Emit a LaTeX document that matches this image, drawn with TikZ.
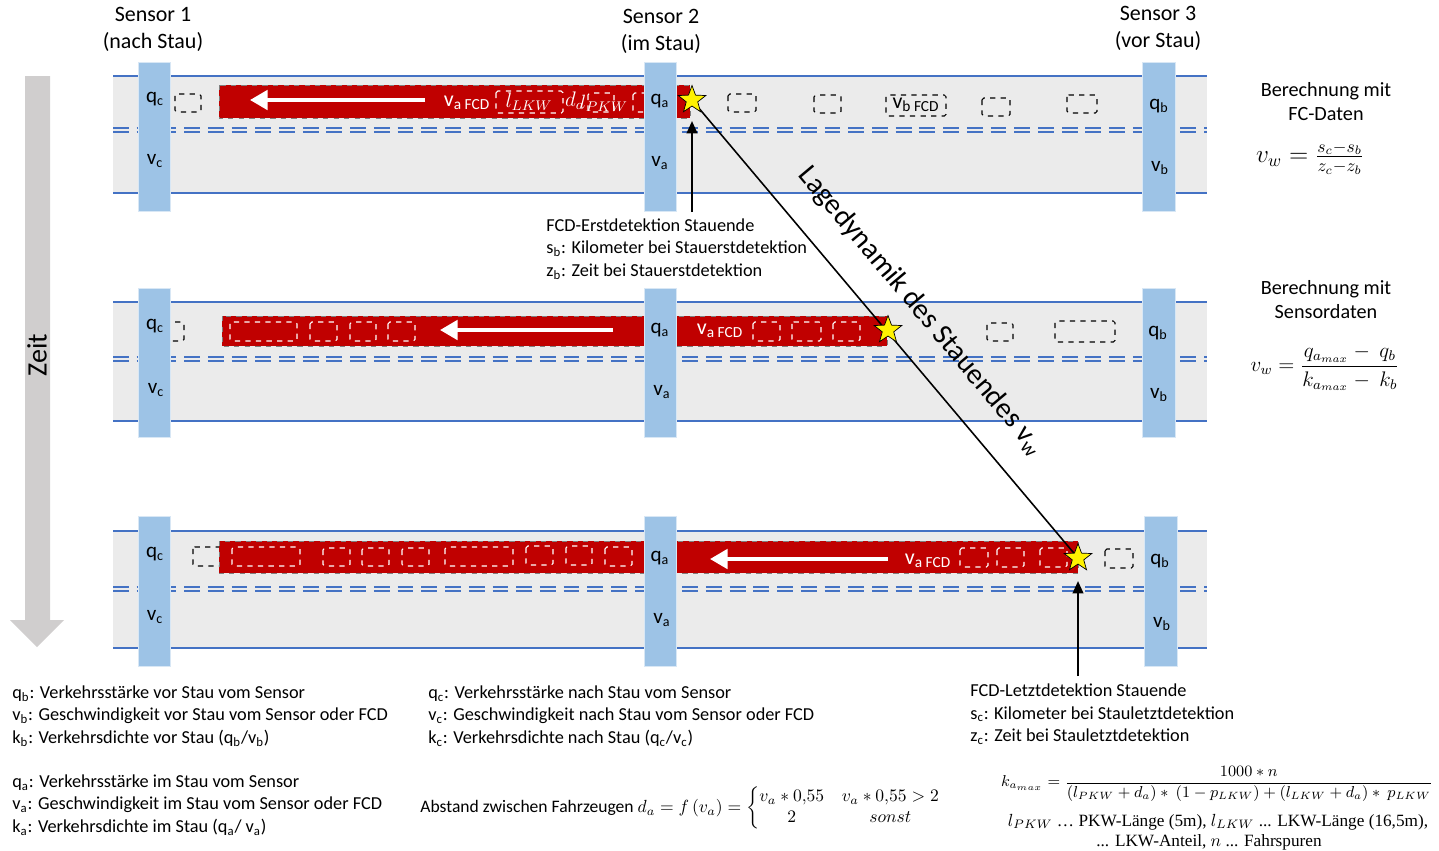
\documentclass[tikz,border=0pt]{standalone}
\usepackage{amsmath}
\usepackage{fontspec}
\setmainfont{Carlito}
\newfontfamily\serifschrift{Liberation Serif}
\usetikzlibrary{arrows.meta, shapes.geometric}

\definecolor{strassengrau}{HTML}{EBEBEB}
\definecolor{strassenblau}{HTML}{4472C4}
\definecolor{sensorblau}{HTML}{9DC3E6}
\definecolor{staurot}{HTML}{C00000}
\definecolor{zeitgrau}{HTML}{D0CECE}

\begin{document}
\begin{tikzpicture}[
    x=0.02cm, y=-0.02cm,
    every node/.style={inner sep=0pt},
    rand/.style={draw=strassenblau, line width=1.1pt},
    spur/.style={draw=strassenblau, line width=0.8pt, dash pattern=on 9pt off 4.5pt},
    sensor/.style={fill=sensorblau, draw=sensorblau!40, line width=0.5pt},
    stau/.style={fill=staurot, draw=gray, dashed, line width=0.4pt},
    pkw/.style={draw=white, dashed, line width=0.6pt, rounded corners=1pt},
    frei/.style={draw=black, dashed, line width=0.6pt, rounded corners=1pt},
    richtung/.style={draw=white, line width=2.2pt, -{Triangle[length=10pt, width=11pt]}},
    stern/.style={star, star points=5, star point ratio=2.4, fill=yellow, draw=black, line width=0.4pt, minimum size=0.58cm},
    hinweis/.style={draw=black, line width=1.2pt, -{Triangle[length=7pt, width=6pt]}},
    wert/.style={font=\fontsize{12}{14}\selectfont},
    fcd/.style={font=\fontsize{12.5}{14}\selectfont},
    kopf/.style={align=center, font=\fontsize{12.5}{15.4}\selectfont},
    liste/.style={anchor=west, align=left, font=\fontsize{10.4}{12.8}\selectfont}
]
    \useasboundingbox (0,0) rectangle (1439,850);

    % Time axis
    \fill[zeitgrau] (25,76) -- (50,76) -- (50,620) -- (64,620) -- (37,647) -- (10,620) -- (25,620) -- cycle;
    \node (zeit) at (37,355) [rotate=90, font=\fontsize{16}{18}\selectfont] {Zeit};

    % Sensor headings
    \node (kopf1) at (153,29) [kopf] {Sensor 1\\(nach Stau)};
    \node (kopf2) at (661,31) [kopf] {Sensor 2\\(im Stau)};
    \node (kopf3) at (1158,28) [kopf] {Sensor 3\\(vor Stau)};

    % Roads
    \fill[strassengrau] (113,76) rectangle (1207,193);
    \fill[strassengrau] (113,302) rectangle (1207,421);
    \fill[strassengrau] (113,531) rectangle (1207,648);
    \draw[rand] (113,76) -- (1207,76);
    \draw[rand] (113,193) -- (1207,193);
    \draw[rand] (113,302) -- (1207,302);
    \draw[rand] (113,421) -- (1207,421);
    \draw[rand] (113,531) -- (1207,531);
    \draw[rand] (113,648) -- (1207,648);
    \draw[spur] (113,128) -- (1207,128);
    \draw[spur] (113,132) -- (1207,132);
    \draw[spur] (113,357) -- (1207,357);
    \draw[spur] (113,361) -- (1207,361);
    \draw[spur] (113,587) -- (1207,587);
    \draw[spur] (113,591) -- (1207,591);

    % Free vehicles
    \draw[frei] (175,94) rectangle (201,112);
    \draw[frei] (728,94) rectangle (756,112);
    \draw[frei] (814,95) rectangle (841,113);
    \draw[frei] (886,95) rectangle (946,116);
    \draw[frei] (982,98) rectangle (1010,116);
    \draw[frei] (1067,95) rectangle (1097,113);
    \draw[frei] (168,322) rectangle (184,341);
    \draw[frei] (987,323) rectangle (1013,341);
    \draw[frei] (1055,321) rectangle (1115,342);
    \draw[frei] (193,547) rectangle (222,566);
    \draw[frei] (1105,549) rectangle (1133,568);
    \node (vbfcd) at (916,105) [fcd] {v\textsubscript{b FCD}};

    % Queues
    \draw[stau] (219,85) rectangle (690,118);
    \draw[stau] (222,316) rectangle (887,346);
    \draw[stau] (219,541) rectangle (1078,573);

    % Queue 1
    \draw[pkw] (496,91) rectangle (563,113);
    \draw[pkw] (588,93) rectangle (614,112);
    \draw[pkw] (633,93) rectangle (655,112);
    \draw[richtung] (425,100) -- (250,100);
    \node (vafcd1) at (467,103) [fcd, text=white] {v\textsubscript{a FCD}};
    \node (llkw) at (529,102) [text=white, font=\fontsize{12}{14}\selectfont] {$l_{LKW}$};
    \node (da) at (575,101) [text=white, font=\fontsize{12}{14}\selectfont] {$d_a$};
    \node (lpkw) at (604,103) [text=white, font=\fontsize{11}{14}\selectfont] {$l_{PKW}$};

    % Queue 2
    \draw[pkw] (230,322) rectangle (297,341);
    \draw[pkw] (310,322) rectangle (337,341);
    \draw[pkw] (350,322) rectangle (376,341);
    \draw[pkw] (388,322) rectangle (415,341);
    \draw[pkw] (753,322) rectangle (780,341);
    \draw[pkw] (792,322) rectangle (821,341);
    \draw[pkw] (833,322) rectangle (860,341);
    \draw[richtung] (613,330) -- (440,330);
    \node (vafcd2) at (720,331) [fcd, text=white] {v\textsubscript{a FCD}};

    % Queue 3
    \draw[pkw] (232,547) rectangle (300,566);
    \draw[pkw] (323,548) rectangle (350,566);
    \draw[pkw] (362,548) rectangle (389,566);
    \draw[pkw] (402,548) rectangle (429,566);
    \draw[pkw] (445,547) rectangle (513,566);
    \draw[pkw] (526,546) rectangle (553,565);
    \draw[pkw] (566,546) rectangle (592,565);
    \draw[pkw] (605,547) rectangle (632,566);
    \draw[pkw] (960,548) rectangle (988,567);
    \draw[pkw] (997,548) rectangle (1024,567);
    \draw[pkw] (1040,548) rectangle (1067,567);
    \draw[richtung] (888,559) -- (710,559);
    \node (vafcd3) at (928,561) [fcd, text=white] {v\textsubscript{a FCD}};

    % Sensors
    \draw[sensor] (138,62) rectangle (170,211);
    \draw[sensor] (644,62) rectangle (676,211);
    \draw[sensor] (1142,62) rectangle (1175,211);
    \draw[sensor] (138,288) rectangle (170,437);
    \draw[sensor] (644,288) rectangle (676,437);
    \draw[sensor] (1142,288) rectangle (1175,437);
    \draw[sensor] (138,516) rectangle (170,666);
    \draw[sensor] (644,516) rectangle (676,666);
    \draw[sensor] (1144,516) rectangle (1177,666);

    % Sensor values
    \node (qc1) at (155,99) [wert] {q\textsubscript{c}};
    \node (vc1) at (155,161) [wert] {v\textsubscript{c}};
    \node (qa1) at (660,101) [wert] {q\textsubscript{a}};
    \node (va1) at (660,163) [wert] {v\textsubscript{a}};
    \node (qb1) at (1159,106) [wert] {q\textsubscript{b}};
    \node (vb1) at (1160,168) [wert] {v\textsubscript{b}};
    \node (qc2) at (155,326) [wert] {q\textsubscript{c}};
    \node (vc2) at (156,390) [wert] {v\textsubscript{c}};
    \node (qa2) at (660,330) [wert] {q\textsubscript{a}};
    \node (va2) at (662,392) [wert] {v\textsubscript{a}};
    \node (qb2) at (1158,333) [wert] {q\textsubscript{b}};
    \node (vb2) at (1159,395) [wert] {v\textsubscript{b}};
    \node (qc3) at (155,554) [wert] {q\textsubscript{c}};
    \node (vc3) at (155,617) [wert] {v\textsubscript{c}};
    \node (qa3) at (660,558) [wert] {q\textsubscript{a}};
    \node (va3) at (662,620) [wert] {v\textsubscript{a}};
    \node (qb3) at (1160,561) [wert] {q\textsubscript{b}};
    \node (vb3) at (1162,624) [wert] {v\textsubscript{b}};

    % Queue end over time
    \coordinate (ende1) at (692,100);
    \coordinate (ende2) at (888,330);
    \coordinate (ende3) at (1078,558);
    \draw[line width=0.9pt] (ende1) -- (ende3);
    \node (stern1) at (ende1) [stern] {};
    \node (stern2) at (ende2) [stern] {};
    \node (stern3) at (ende3) [stern] {};
    \node (dynamik) at (921,311) [rotate=-50, font=\fontsize{16.5}{18}\selectfont] {Lagedynamik des Stauendes v\textsubscript{w}};

    % Detections
    \coordinate (erstfuss) at (692,212);
    \coordinate (erstspitze) at (692,121);
    \coordinate (letztfuss) at (1078,676);
    \coordinate (letztspitze) at (1078,581);
    \draw[hinweis] (erstfuss) -- (erstspitze);
    \draw[hinweis] (letztfuss) -- (letztspitze);
    \node (erst) at (546,249) [liste] {FCD-Erstdetektion Stauende\\
        s\textsubscript{b}: Kilometer bei Stauerstdetektion\\
        z\textsubscript{b}: Zeit bei Stauerstdetektion};
    \node (letzt) at (970,714) [liste] {FCD-Letztdetektion Stauende\\
        s\textsubscript{c}: Kilometer bei Stauletztdetektion\\
        z\textsubscript{c}: Zeit bei Stauletztdetektion};

    % Calculation
    \node (fcberech) at (1326,102) [align=center, font=\fontsize{11.5}{13.7}\selectfont] {Berechnung mit\\FC-Daten};
    \node (fcformel) at (1310,158) [font=\fontsize{14}{16}\selectfont] {$v_w = \frac{s_c - s_b}{z_c - z_b}$};
    \node (sdberech) at (1326,300) [align=center, font=\fontsize{11.5}{13.7}\selectfont] {Berechnung mit\\Sensordaten};
    \node (sdformel) at (1325,368) [font=\fontsize{12}{14}\selectfont] {$v_w = \dfrac{q_{a_{max}} -\ q_b}{k_{a_{max}} -\ k_b}$};

    % Legend
    \node (legb) at (12,716) [liste] {q\textsubscript{b}: Verkehrsstärke vor Stau vom Sensor\\
        v\textsubscript{b}: Geschwindigkeit vor Stau vom Sensor oder FCD\\
        k\textsubscript{b}: Verkehrsdichte vor Stau (q\textsubscript{b}/v\textsubscript{b})};
    \node (lega) at (12,805) [liste] {q\textsubscript{a}: Verkehrsstärke im Stau vom Sensor\\
        v\textsubscript{a}: Geschwindigkeit im Stau vom Sensor oder FCD\\
        k\textsubscript{a}: Verkehrsdichte im Stau (q\textsubscript{a}/ v\textsubscript{a})};
    \node (legc) at (428,716) [liste] {q\textsubscript{c}: Verkehrsstärke nach Stau vom Sensor\\
        v\textsubscript{c}: Geschwindigkeit nach Stau vom Sensor oder FCD\\
        k\textsubscript{c}: Verkehrsdichte nach Stau (q\textsubscript{c}/v\textsubscript{c})};
    \node (abstand) at (420,808) [anchor=west, font=\fontsize{10}{12}\selectfont] {Abstand zwischen Fahrzeugen
        $d_a = f\,(v_a) = \left\{\begin{array}{@{}c@{\quad}c@{}} v_a * 0{,}55 & v_a * 0{,}55 > 2\\ 2 & sonst\end{array}\right.$};

    % Maximum density
    \node (kmax) at (1217,784) [font=\fontsize{9}{11}\selectfont] {$k_{a_{max}} = \dfrac{1000 * n}{(l_{PKW} + d_a) *\ (1 - p_{LKW}) + (l_{LKW} + d_a) *\ p_{LKW}}$};
    \node (laengen) at (1218,822) [font=\serifschrift\fontsize{9.8}{12}\selectfont] {$l_{PKW}$ \ldots{} PKW-Länge (5m), $l_{LKW}$ ... LKW-Länge (16,5m),};
    \node (anteil) at (1209,842) [font=\serifschrift\fontsize{9.8}{12}\selectfont] {... LKW-Anteil, $n$ ... Fahrspuren};
\end{tikzpicture}
\end{document}
